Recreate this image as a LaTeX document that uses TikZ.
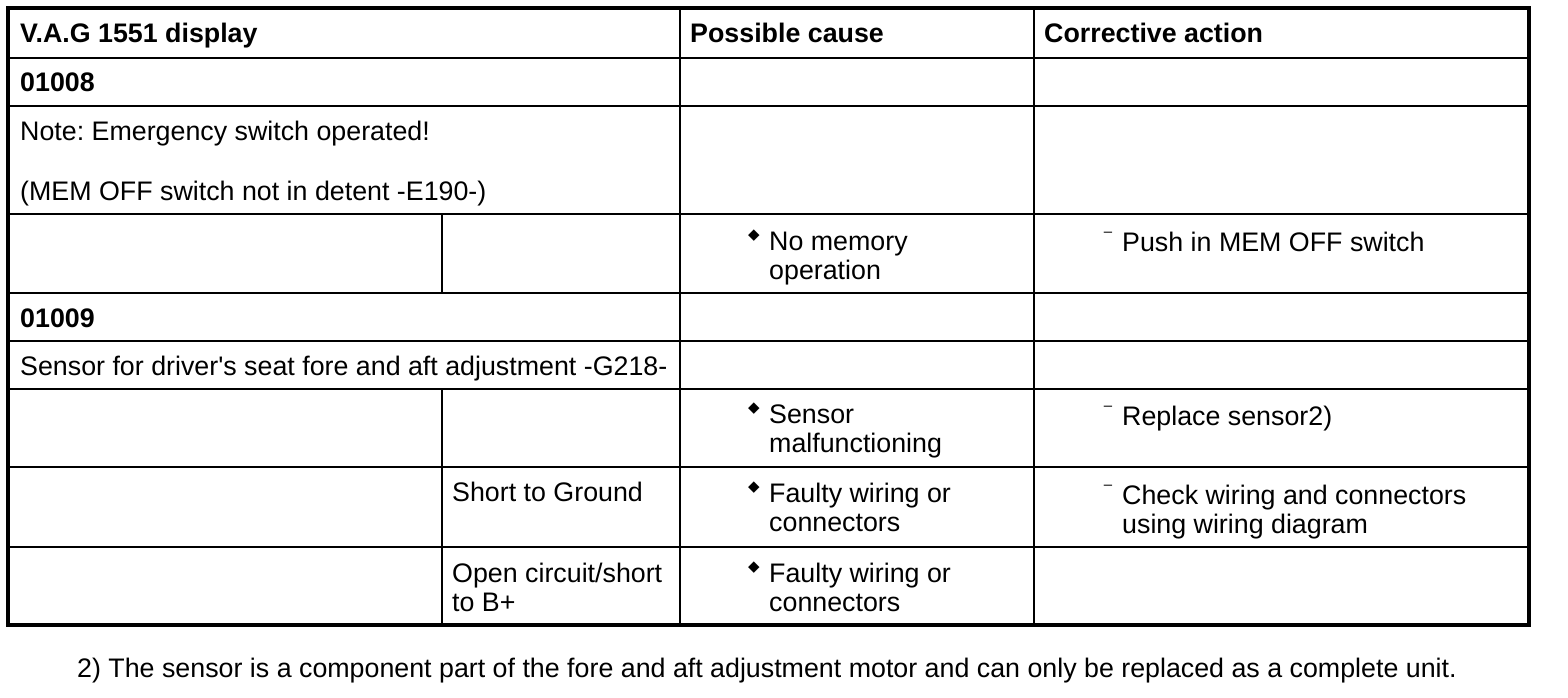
\documentclass[tikz,border=0pt]{standalone}
\usepackage{fontspec}
\setmainfont{Liberation Sans}[Ligatures=TeXOff]
\newfontfamily\symfont{DejaVu Sans}
\usetikzlibrary{calc}

\begin{document}
\frenchspacing
\begin{tikzpicture}[x=1pt,y=-1pt,
		cell/.style={anchor=base west,inner sep=0pt,font=\fontsize{26.8}{29}\selectfont},
		head/.style={cell,font=\fontsize{26.8}{29}\selectfont\bfseries},
		bulletmark/.style={inner sep=0pt,font=\symfont\fontsize{15}{15}\selectfont},
		dashmark/.style={inner sep=0pt,font=\fontsize{15}{15}\selectfont},
		grid/.style={line width=2.6pt},
		frame/.style={line width=3.2pt}]
		\useasboundingbox (0,0) rectangle (1568,698);
		\foreach \y in {58,106,214,293,341,389,467,547}
			\draw[grid] (8,\y) -- (1529,\y);
		\draw[grid] (680,8) -- (680,625)
		            (1034,8) -- (1034,625)
		            (442,214) -- (442,293)
		            (442,389) -- (442,625);
		\draw[frame] (8,8) rectangle (1529,625);
		\node[head]  (Vd)  at (20,43)    {V.A.G 1551 display};
		\node[head]  (Pc)  at (690,43)   {Possible cause};
		\node[head]  (Ca)  at (1044,43)  {Corrective action};
		\node[head]  (A)   at (20,92)    {01008};
		\node[cell]  (Na)  at (20,141)   {Note: Emergency switch operated!};
		\node[cell]  (Nb)  at (20,200)   {(MEM OFF switch not in detent -E190-)};
		\node[cell]  (Ma)  at (769,250)  {No memory};
		\node[cell]  (Mb)  at (769,279)  {operation};
		\node[cell]  (Pu)  at (1122,251) {Push in MEM OFF switch};
		\node[head]  (B)   at (20,327)   {01009};
		\node[cell]  (Se)  at (20,375)   {Sensor for driver's seat fore and aft adjustment -G218-};
		\node[cell]  (Sa)  at (769,423)  {Sensor};
		\node[cell]  (Sb)  at (769,452)  {malfunctioning};
		\node[cell]  (Re)  at (1122,425) {Replace sensor2)};
		\node[cell]  (Sg)  at (452,501)  {Short to Ground};
		\node[cell]  (Fa)  at (769,502)  {Faulty wiring or};
		\node[cell]  (Fb)  at (769,531)  {connectors};
		\node[cell]  (Ch)  at (1122,504) {Check wiring and connectors};
		\node[cell]  (Cu)  at (1122,533) {using wiring diagram};
		\node[cell]  (Oa)  at (452,582)  {Open circuit/short};
		\node[cell]  (Ob)  at (452,611)  {to B+};
		\node[cell]  (Ga)  at (769,582)  {Faulty wiring or};
		\node[cell]  (Gb)  at (769,611)  {connectors};
		\node[cell]  (Fn)  at (77,677)   {2) The sensor is a component part of the fore and aft adjustment motor and can only be replaced as a complete unit.};
		\foreach \t in {Ma,Sa,Fa,Ga}
			\node[bulletmark] (b\t) at ([xshift=-15pt,yshift=14pt]\t.base west) {◆};
		\foreach \t in {Pu,Re,Ch}
			\node[dashmark] (d\t) at ([xshift=-14pt,yshift=17pt]\t.base west) {–};
\end{tikzpicture}
\end{document}
